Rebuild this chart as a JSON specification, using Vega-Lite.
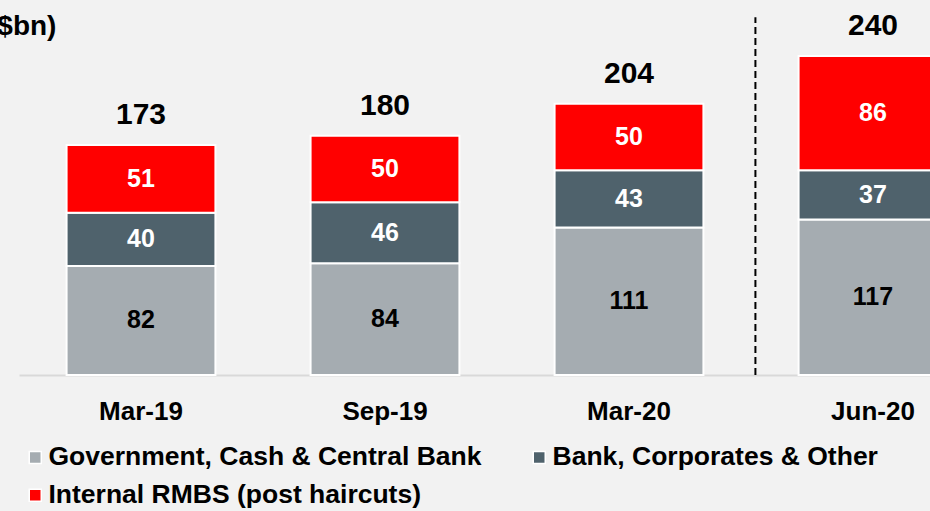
{
  "$schema": "https://vega.github.io/schema/vega-lite/v6.json",
  "width": 976,
  "height": 359,
  "autosize": {"type": "none"},
  "padding": {"left": 19, "top": 16, "right": 0, "bottom": 136},
  "background": "#f2f2f2",
  "config": {"view": {"stroke": null}, "font": "Liberation Sans"},
  "title": {"text": "($bn)", "anchor": "start", "frame": "group", "dx": -31, "offset": -30, "fontSize": 28, "fontWeight": "bold", "color": "black", "font": "Liberation Sans"},
  "data": {"values": [
    {"date": "Mar-19", "category": "Government, Cash & Central Bank", "value": 82},
    {"date": "Mar-19", "category": "Bank, Corporates & Other", "value": 40},
    {"date": "Mar-19", "category": "Internal RMBS (post haircuts)", "value": 51},
    {"date": "Sep-19", "category": "Government, Cash & Central Bank", "value": 84},
    {"date": "Sep-19", "category": "Bank, Corporates & Other", "value": 46},
    {"date": "Sep-19", "category": "Internal RMBS (post haircuts)", "value": 50},
    {"date": "Mar-20", "category": "Government, Cash & Central Bank", "value": 111},
    {"date": "Mar-20", "category": "Bank, Corporates & Other", "value": 43},
    {"date": "Mar-20", "category": "Internal RMBS (post haircuts)", "value": 50},
    {"date": "Jun-20", "category": "Government, Cash & Central Bank", "value": 117},
    {"date": "Jun-20", "category": "Bank, Corporates & Other", "value": 37},
    {"date": "Jun-20", "category": "Internal RMBS (post haircuts)", "value": 86}
  ]},
  "transform": [
    {"calculate": "indexof(['Government, Cash & Central Bank','Bank, Corporates & Other','Internal RMBS (post haircuts)'], datum.category)", "as": "k"},
    {"stack": "value", "groupby": ["date"], "sort": [{"field": "k", "order": "ascending"}], "as": ["v0", "v1"]},
    {"calculate": "(datum.v0 + datum.v1) / 2", "as": "mid"}
  ],
  "encoding": {
    "x": {
      "field": "date", "type": "nominal", "sort": ["Mar-19", "Sep-19", "Mar-20", "Jun-20"],
      "scale": {"paddingInner": 0.39, "paddingOuter": 0.195},
      "axis": {"title": null, "labelAngle": 0, "labelFontSize": 26, "labelFontWeight": "bold", "labelColor": "black", "ticks": false, "domainColor": "#d9d9d9", "domainWidth": 2, "labelPadding": 23, "labelFont": "Liberation Sans"}
    }
  },
  "layer": [
    {
      "mark": {"type": "bar", "stroke": "white", "strokeWidth": 2},
      "encoding": {
        "y": {"field": "v0", "type": "quantitative", "scale": {"domain": [0, 270], "nice": false}, "axis": null},
        "y2": {"field": "v1"},
        "color": {
          "field": "category", "type": "nominal",
          "sort": ["Government, Cash & Central Bank", "Bank, Corporates & Other", "Internal RMBS (post haircuts)"],
          "scale": {"domain": ["Government, Cash & Central Bank", "Bank, Corporates & Other", "Internal RMBS (post haircuts)"], "range": ["#a5acb1", "#4f626c", "#ff0000"]},
          "legend": {"title": null, "orient": "none", "legendX": 3, "legendY": 428, "columns": 2, "direction": "horizontal", "symbolType": "square", "symbolSize": 144, "symbolStrokeColor": "white", "symbolStrokeWidth": 1.5, "symbolOpacity": 1, "labelFontSize": 26.5, "labelFontWeight": "bold", "labelColor": "black", "labelFont": "Liberation Sans", "labelLimit": 700, "labelOffset": 0, "columnPadding": 44, "rowPadding": 11}
        }
      }
    },
    {
      "mark": {"type": "text", "fontSize": 25, "fontWeight": "bold", "baseline": "middle"},
      "encoding": {
        "y": {"field": "mid", "type": "quantitative"},
        "text": {"field": "value", "type": "quantitative"},
        "color": {"condition": {"test": "datum.k == 0", "value": "black"}, "value": "white"}
      }
    },
    {
      "transform": [{"aggregate": [{"op": "sum", "field": "value", "as": "total"}], "groupby": ["date"]}],
      "mark": {"type": "text", "fontSize": 30, "fontWeight": "bold", "baseline": "middle", "dy": -30, "color": "black"},
      "encoding": {
        "y": {"field": "total", "type": "quantitative"},
        "text": {"field": "total", "type": "quantitative"}
      }
    },
    {
      "transform": [{"filter": "datum.date == 'Jun-20' && datum.k == 0"}],
      "mark": {"type": "rule", "color": "black", "strokeWidth": 2, "strokeDash": [7, 4]},
      "encoding": {
        "x": {"field": "date", "type": "nominal", "sort": ["Mar-19", "Sep-19", "Mar-20", "Jun-20"], "bandPosition": -0.29},
        "y": {"datum": 0},
        "y2": {"datum": 269}
      }
    }
  ]
}
